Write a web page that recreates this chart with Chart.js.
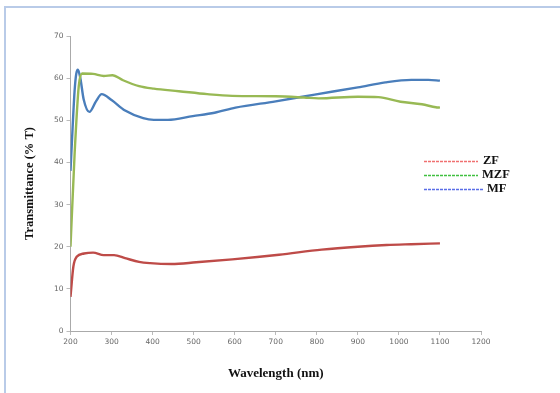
<!DOCTYPE html>
<html>
<head>
<meta charset="utf-8">
<script src="https://cdn.jsdelivr.net/npm/chart.js@4.4.0/dist/chart.umd.min.js"></script>
<style>
  html, body { margin: 0; padding: 0; background: #fff; }
  #wrap { position: relative; width: 560px; height: 393px; overflow: hidden; }
  #frame { position: absolute; left: 4px; top: 6px; width: 600px; height: 420px;
           border-top: 2px solid #b9cbe8; border-left: 2px solid #b9cbe8; }
  canvas { position: absolute; left: 0; top: 0; }
</style>
</head>
<body>
<div id="wrap">
  <div id="frame"></div>
  <canvas id="chart" width="560" height="393"></canvas>
</div>
<script>
// wavelength (nm) and transmittance (% T)
const zfWave = [200, 207, 215, 233, 255, 281, 306, 333, 367, 394, 446, 506, 594, 708, 812, 900, 970, 1030, 1100];
const zfT    = [8.1, 15.3, 17.6, 18.4, 18.6, 18.0, 18.0, 17.3, 16.4, 16.1, 15.9, 16.3, 17.0, 18.1, 19.3, 20.0, 20.4, 20.6, 20.8];

const mzfWave = [200, 210, 220, 228, 255, 281, 302, 328, 367, 403, 464, 533, 594, 700, 769, 804, 900, 950, 1004, 1056, 1090, 1100];
const mzfT    = [20.0, 42, 58, 61.1, 61.0, 60.5, 60.7, 59.5, 58.1, 57.5, 56.9, 56.2, 55.8, 55.7, 55.4, 55.2, 55.6, 55.5, 54.4, 53.8, 53.1, 53.0];

const mfWave = [200, 205, 210, 214, 218, 224, 232, 246, 262, 276, 300, 333, 377, 403, 437, 498, 551, 602, 700, 795, 900, 967, 1030, 1072, 1100];
const mfT    = [38, 48, 57, 61, 62.0, 60.0, 55.0, 52.0, 54.5, 56.2, 54.8, 52.3, 50.5, 50.1, 50.1, 51.0, 51.8, 53.0, 54.5, 56.1, 57.8, 59.0, 59.6, 59.6, 59.4];

const xTicks = [200, 300, 400, 500, 600, 700, 800, 900, 1000, 1100, 1200];
const yTicks = [0, 10, 20, 30, 40, 50, 60, 70];

const pts = (xs, ys) => xs.map((x, i) => ({ x: x, y: ys[i] }));

const series = [
  { label: 'ZF',  data: pts(zfWave, zfT),   color: '#be4b48', legendColor: '#f07070' },
  { label: 'MZF', data: pts(mzfWave, mzfT), color: '#98b954', legendColor: '#40c040' },
  { label: 'MF',  data: pts(mfWave, mfT),   color: '#4a7ebb', legendColor: '#5a6ee8' }
];

// legend drawn at a fixed spot on the right, like the original figure
const sideLegend = {
  id: 'sideLegend',
  afterDraw(chart) {
    const ctx = chart.ctx;
    const rows = [
      { y: 161, x0: 424, x1: 478, tx: 483 },
      { y: 175, x0: 424, x1: 478, tx: 482 },
      { y: 189, x0: 424, x1: 483, tx: 487 }
    ];
    ctx.save();
    series.forEach((s, i) => {
      const r = rows[i];
      ctx.strokeStyle = s.legendColor;
      ctx.lineWidth = 1.3;
      ctx.setLineDash([3, 1]);
      ctx.beginPath();
      ctx.moveTo(r.x0, r.y + 0.5);
      ctx.lineTo(r.x1, r.y + 0.5);
      ctx.stroke();
      ctx.setLineDash([]);
      ctx.fillStyle = '#111';
      ctx.font = 'bold 12.5px "Liberation Serif", serif';
      ctx.textBaseline = 'middle';
      ctx.fillText(s.label, r.tx, r.y);
    });
    ctx.restore();
  }
};

new Chart(document.getElementById('chart'), {
  type: 'line',
  data: {
    datasets: series.map(s => ({
      label: s.label,
      data: s.data,
      borderColor: s.color,
      borderWidth: 2.4,
      pointRadius: 0,
      fill: false,
      cubicInterpolationMode: 'monotone'
    }))
  },
  options: {
    responsive: false,
    animation: false,
    layout: { padding: { left: 0, right: 79, top: 36, bottom: 0 } },
    plugins: { legend: { display: false }, tooltip: { enabled: false } },
    scales: {
      x: {
        type: 'linear',
        min: 200, max: 1200,
        afterBuildTicks: s => { s.ticks = xTicks.map(v => ({ value: v })); },
        afterFit: s => { s.height = 62; },
        grid: { drawOnChartArea: false, tickLength: 4, color: '#bbb' },
        border: { color: '#aaa', width: 1 },
        ticks: { color: '#666', font: { size: 7.5, family: 'DejaVu Sans' }, padding: 3, maxRotation: 0,
                 callback: v => String(v) },
        title: {
          display: true, text: 'Wavelength (nm)', color: '#111',
          font: { size: 13, weight: 'bold', family: '"Liberation Serif", serif' },
          padding: { top: 0, bottom: 12 }
        }
      },
      y: {
        min: 0, max: 70,
        afterBuildTicks: s => { s.ticks = yTicks.map(v => ({ value: v })); },
        afterFit: s => { s.width = 70.5; },
        grid: { drawOnChartArea: false, tickLength: 4, color: '#bbb' },
        border: { color: '#aaa', width: 1 },
        ticks: { color: '#666', font: { size: 7.5, family: 'DejaVu Sans' }, padding: 3,
                 callback: v => String(v) },
        title: {
          display: true, text: 'Transmittance (% T)', color: '#111',
          font: { size: 12.5, weight: 'bold', family: '"Liberation Serif", serif' },
          padding: { top: 22, bottom: 0 }
        }
      }
    }
  },
  plugins: [sideLegend]
});
</script>
</body>
</html>
